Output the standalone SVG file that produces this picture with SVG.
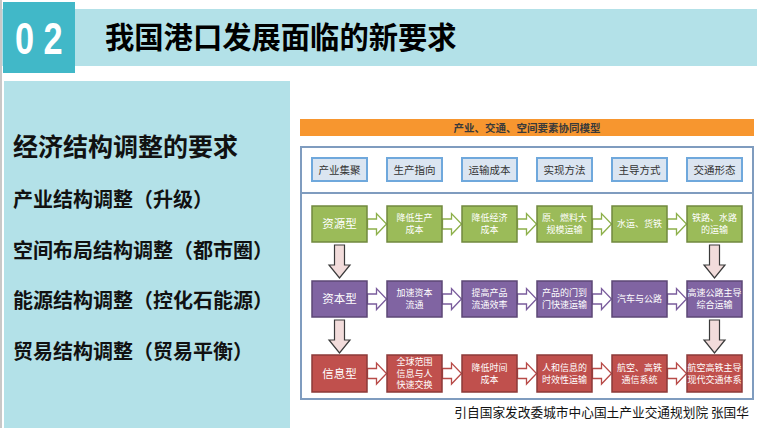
<svg xmlns="http://www.w3.org/2000/svg" width="757" height="428" viewBox="0 0 757 428">
<style>
.cjk{font-family:"Noto Sans CJK SC","Noto Sans",sans-serif}
.title{font-size:29.3px;font-weight:bold;fill:#000}
.h1{font-size:25px;font-weight:bold;fill:#111}
.h2{font-size:20px;font-weight:bold;fill:#111}
.hdr{fill:#DBE5F1;stroke:#6FA8DC;stroke-width:2}
.hdrt{font-size:10.5px;fill:#333;text-anchor:middle}
.bt{font-size:9px;fill:#fff;text-anchor:middle}
.bt1{font-size:11.5px;fill:#fff;text-anchor:middle}
.g{fill:#9BBB59;stroke:#71893F;stroke-width:1.5}
.p{fill:#8064A2;stroke:#5C4776;stroke-width:1.5}
.r{fill:#C0504D;stroke:#8C3A38;stroke-width:1.5}
.ag{fill:#fff;stroke:#8DB04A;stroke-width:1.3}
.ap{fill:#fff;stroke:#7A5C9C;stroke-width:1.3}
.ar{fill:#fff;stroke:#B84B48;stroke-width:1.3}
.ad{fill:#F2DCDB;stroke:#3A3A3A;stroke-width:1.2}
.dg{font-family:"Liberation Sans",Arial,sans-serif;font-size:44px;font-weight:bold;fill:#fff}
</style>
<defs>
<path id="ha" d="M0,-5 H9 V-10.5 L19,0 L9,10.5 V5 H0 Z"/>
<path id="da" d="M-5,0 V20 H-10.5 L0,33 L10.5,20 H5 V0 Z"/>
</defs>
<rect width="757" height="428" fill="#fff"/>
<rect x="0" y="0" width="2" height="428" fill="#C8C8C8"/>
<g id="header">
<rect x="2" y="9" width="755" height="57" fill="#B3E1E8"/>
<rect x="3" y="2" width="72" height="71" fill="#41B8C8"/>
<text class="dg" transform="translate(15,54) scale(0.78,1)">0</text>
<text class="dg" transform="translate(43.5,54) scale(0.78,1)">2</text>
<text x="105" y="48" class="cjk title">我国港口发展面临的新要求</text>
</g>
<g id="left-panel">
<rect x="4" y="81" width="286" height="347" fill="#B3E1E8"/>
<text x="13" y="155.5" class="cjk h1">经济结构调整的要求</text>
<text x="13" y="206.6" class="cjk h2">产业结构调整（升级）</text>
<text x="13" y="257.6" class="cjk h2">空间布局结构调整（都市圈）</text>
<text x="13" y="307.6" class="cjk h2">能源结构调整（控化石能源）</text>
<text x="13" y="358.6" class="cjk h2">贸易结构调整（贸易平衡）</text>
</g>
<g id="model-title">
<rect x="300" y="119" width="454" height="17" fill="#F7962F"/>
<text x="527" y="132" class="cjk" font-size="10.5" font-weight="bold" fill="#3A3A3A" text-anchor="middle">产业、交通、空间要素协同模型</text>
</g>
<g id="frame">
<rect x="301" y="147" width="452" height="252" fill="#fff" stroke="#7F9CBF" stroke-width="2"/>
<line x1="301" y1="193" x2="753" y2="193" stroke="#7F9CBF" stroke-width="2"/>
</g>
<g id="header-cells" class="cjk">
<g id="h1"><rect x="312" y="158" width="55" height="23" class="hdr"/><text x="339.5" y="173.5" class="hdrt">产业集聚</text></g>
<g id="h2"><rect x="387" y="158" width="55" height="23" class="hdr"/><text x="414.5" y="173.5" class="hdrt">生产指向</text></g>
<g id="h3"><rect x="462" y="158" width="55" height="23" class="hdr"/><text x="489.5" y="173.5" class="hdrt">运输成本</text></g>
<g id="h4"><rect x="537" y="158" width="55" height="23" class="hdr"/><text x="564.5" y="173.5" class="hdrt">实现方法</text></g>
<g id="h5"><rect x="612" y="158" width="55" height="23" class="hdr"/><text x="639.5" y="173.5" class="hdrt">主导方式</text></g>
<g id="h6"><rect x="687" y="158" width="55" height="23" class="hdr"/><text x="714.5" y="173.5" class="hdrt">交通形态</text></g>
</g>
<g id="connectors">
<use href="#ha" transform="translate(367.5,224)" class="ag"/>
<use href="#ha" transform="translate(442.5,224)" class="ag"/>
<use href="#ha" transform="translate(517.5,224)" class="ag"/>
<use href="#ha" transform="translate(592.5,224)" class="ag"/>
<use href="#ha" transform="translate(667.5,224)" class="ag"/>
<use href="#ha" transform="translate(367.5,299)" class="ap"/>
<use href="#ha" transform="translate(442.5,299)" class="ap"/>
<use href="#ha" transform="translate(517.5,299)" class="ap"/>
<use href="#ha" transform="translate(592.5,299)" class="ap"/>
<use href="#ha" transform="translate(667.5,299)" class="ap"/>
<use href="#ha" transform="translate(367.5,373.5)" class="ar"/>
<use href="#ha" transform="translate(442.5,373.5)" class="ar"/>
<use href="#ha" transform="translate(517.5,373.5)" class="ar"/>
<use href="#ha" transform="translate(592.5,373.5)" class="ar"/>
<use href="#ha" transform="translate(667.5,373.5)" class="ar"/>
<use href="#da" transform="translate(339.5,245)" class="ad"/>
<use href="#da" transform="translate(714.5,245)" class="ad"/>
<use href="#da" transform="translate(339.5,320)" class="ad"/>
<use href="#da" transform="translate(714.5,320)" class="ad"/>
</g>
<g class="cjk">
<g id="g1"><rect x="312" y="206" width="55" height="36" class="g"/><text x="339.5" y="228.3" class="bt1">资源型</text></g>
<g id="g2"><rect x="387" y="206" width="55" height="36" class="g"/><text x="414.5" y="221.4" class="bt">降低生产</text><text x="414.5" y="233.4" class="bt">成本</text></g>
<g id="g3"><rect x="462" y="206" width="55" height="36" class="g"/><text x="489.5" y="221.4" class="bt">降低经济</text><text x="489.5" y="233.4" class="bt">成本</text></g>
<g id="g4"><rect x="537" y="206" width="55" height="36" class="g"/><text x="564.5" y="221.4" class="bt">原、燃料大</text><text x="564.5" y="233.4" class="bt">规模运输</text></g>
<g id="g5"><rect x="612" y="206" width="55" height="36" class="g"/><text x="639.5" y="227.4" class="bt">水运、货铁</text></g>
<g id="g6"><rect x="687" y="206" width="55" height="36" class="g"/><text x="714.5" y="221.4" class="bt">铁路、水路</text><text x="714.5" y="233.4" class="bt">的运输</text></g>
<g id="p1"><rect x="312" y="281" width="55" height="36" class="p"/><text x="339.5" y="303.3" class="bt1">资本型</text></g>
<g id="p2"><rect x="387" y="281" width="55" height="36" class="p"/><text x="414.5" y="296.4" class="bt">加速资本</text><text x="414.5" y="308.4" class="bt">流通</text></g>
<g id="p3"><rect x="462" y="281" width="55" height="36" class="p"/><text x="489.5" y="296.4" class="bt">提高产品</text><text x="489.5" y="308.4" class="bt">流通效率</text></g>
<g id="p4"><rect x="537" y="281" width="55" height="36" class="p"/><text x="564.5" y="296.4" class="bt">产品的门到</text><text x="564.5" y="308.4" class="bt">门快速运输</text></g>
<g id="p5"><rect x="612" y="281" width="55" height="36" class="p"/><text x="639.5" y="302.4" class="bt">汽车与公路</text></g>
<g id="p6"><rect x="687" y="281" width="55" height="36" class="p"/><text x="714.5" y="296.4" class="bt">高速公路主导</text><text x="714.5" y="308.4" class="bt">综合运输</text></g>
<g id="r1"><rect x="312" y="355" width="55" height="37" class="r"/><text x="339.5" y="377.8" class="bt1">信息型</text></g>
<g id="r2"><rect x="387" y="355" width="55" height="37" class="r"/><text x="414.5" y="365.4" class="bt">全球范围</text><text x="414.5" y="376.9" class="bt">信息与人</text><text x="414.5" y="388.4" class="bt">快速交换</text></g>
<g id="r3"><rect x="462" y="355" width="55" height="37" class="r"/><text x="489.5" y="370.9" class="bt">降低时间</text><text x="489.5" y="382.9" class="bt">成本</text></g>
<g id="r4"><rect x="537" y="355" width="55" height="37" class="r"/><text x="564.5" y="370.9" class="bt">人和信息的</text><text x="564.5" y="382.9" class="bt">时效性运输</text></g>
<g id="r5"><rect x="612" y="355" width="55" height="37" class="r"/><text x="639.5" y="370.9" class="bt">航空、高铁</text><text x="639.5" y="382.9" class="bt">通信系统</text></g>
<g id="r6"><rect x="687" y="355" width="55" height="37" class="r"/><text x="714.5" y="370.9" class="bt">航空高铁主导</text><text x="714.5" y="382.9" class="bt">现代交通体系</text></g>
</g>
<text x="749" y="417" class="cjk" font-size="12.7" fill="#111" text-anchor="end">引自国家发改委城市中心国土产业交通规划院 张国华</text>
</svg>
